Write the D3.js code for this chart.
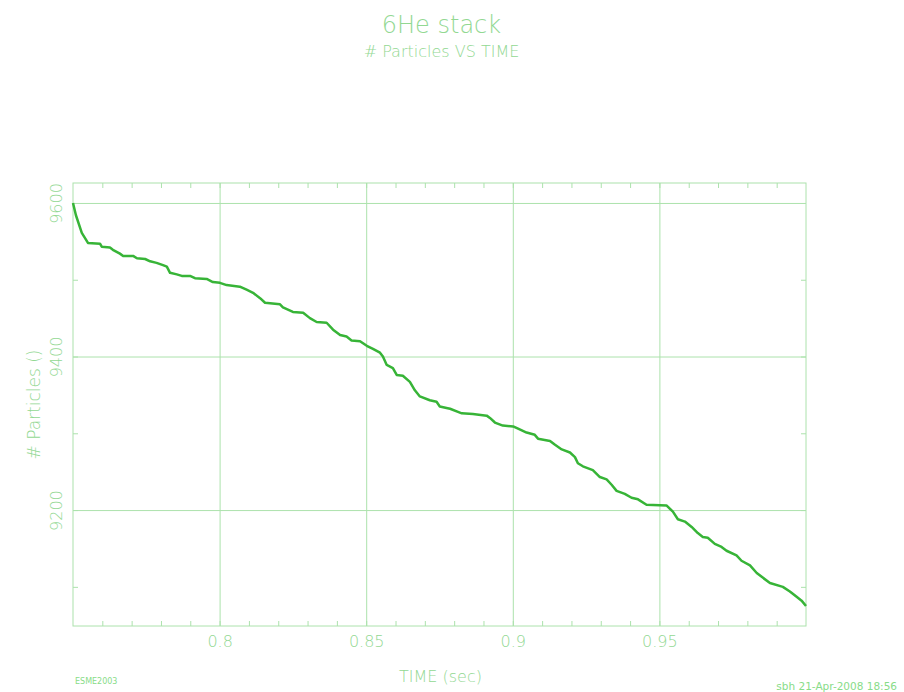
<!DOCTYPE html>
<html>
<head>
<meta charset="utf-8">
<script src="https://cdn.jsdelivr.net/npm/d3@7"></script>
<style>
  body { margin: 0; background: #fff; }
  text { font-family: "DejaVu Sans", sans-serif; font-weight: 200; fill: #92d892; }
  text.small { font-weight: normal; fill: #88dc88; }
</style>
</head>
<body>
<div id="chart"></div>
<script>
// time (sec)
const timeSec = [
  0.7500, 0.7510, 0.7530, 0.7551, 0.7592, 0.7598, 0.7626, 0.7636, 0.7660, 0.7671,
  0.7705, 0.7718, 0.7746, 0.7763, 0.7785, 0.7807, 0.7820, 0.7831, 0.7854, 0.7871,
  0.7899, 0.7916, 0.7956, 0.7977, 0.8001, 0.8024, 0.8069, 0.8092, 0.8114, 0.8138,
  0.8155, 0.8206, 0.8216, 0.8250, 0.8285, 0.8308, 0.8331, 0.8365, 0.8387, 0.8411,
  0.8433, 0.8450, 0.8479, 0.8502, 0.8523, 0.8547, 0.8557, 0.8570, 0.8591, 0.8604,
  0.8625, 0.8649, 0.8666, 0.8683, 0.8717, 0.8740, 0.8751, 0.8774, 0.8786, 0.8813,
  0.8826, 0.8864, 0.8911, 0.8922, 0.8939, 0.8966, 0.9001, 0.9018, 0.9047, 0.9075,
  0.9086, 0.9127, 0.9144, 0.9167, 0.9195, 0.9212, 0.9222, 0.9239, 0.9273, 0.9297,
  0.9320, 0.9337, 0.9354, 0.9382, 0.9405, 0.9427, 0.9456, 0.9524, 0.9546, 0.9563,
  0.9587, 0.9610, 0.9631, 0.9648, 0.9665, 0.9689, 0.9712, 0.9729, 0.9763, 0.9780,
  0.9809, 0.9832, 0.9849, 0.9877, 0.9921, 0.9945, 0.9968, 0.9985, 1.0000
];

// number of particles at each time
const particles = [
  9600, 9584, 9561, 9548, 9547, 9543, 9542, 9539, 9534, 9531,
  9531, 9528, 9527, 9524, 9522, 9519, 9517, 9509, 9507, 9505,
  9505, 9502, 9501, 9497, 9496, 9493, 9491, 9487, 9483, 9476,
  9470, 9468, 9464, 9458, 9457, 9450, 9445, 9444, 9435, 9428,
  9426, 9421, 9420, 9414, 9410, 9405, 9400, 9389, 9385, 9376,
  9375, 9367, 9356, 9348, 9343, 9341, 9335, 9333, 9332, 9328,
  9326, 9325, 9323, 9320, 9314, 9310, 9309, 9306, 9301, 9298,
  9293, 9290, 9285, 9279, 9275, 9269, 9261, 9257, 9252, 9243,
  9240, 9233, 9225, 9221, 9216, 9214, 9207, 9206, 9198, 9188,
  9185, 9178, 9170, 9165, 9164, 9156, 9152, 9147, 9141, 9134,
  9128, 9118, 9113, 9105, 9100, 9094, 9087, 9082, 9075
];

const xTickLabels = [0.8, 0.85, 0.9, 0.95];
const yTickLabels = [9200, 9400, 9600];

const WIDTH = 904, HEIGHT = 692;
const margin = { top: 183, right: 98, bottom: 66, left: 73 };
const plotW = WIDTH - margin.left - margin.right;
const plotH = HEIGHT - margin.top - margin.bottom;

const gridColor = "#ace2ac";
const lineColor = "#37b437";

const svg = d3.select("#chart")
  .append("svg")
  .attr("width", WIDTH)
  .attr("height", HEIGHT);

const g = svg.append("g")
  .attr("transform", `translate(${margin.left}, ${margin.top})`);

const x = d3.scaleLinear().domain([0.75, 1.0]).range([0, plotW]);
const y = d3.scaleLinear().domain([9049, 9626]).range([plotH, 0]);

const xMinor = d3.range(76, 100).map(i => i / 100);
const yMinor = d3.range(9100, 9600, 100);

function styleAxis(sel) {
  sel.select(".domain").remove();
  sel.selectAll("line").attr("stroke", gridColor);
}

// grid lines
g.append("g")
  .call(d3.axisBottom(x).tickValues(xTickLabels).tickSize(plotH).tickFormat(""))
  .call(styleAxis);
g.append("g")
  .call(d3.axisLeft(y).tickValues(yTickLabels).tickSize(-plotW).tickFormat(""))
  .call(styleAxis);

// minor ticks inside the frame
g.append("g").attr("transform", `translate(0, ${plotH})`)
  .call(d3.axisBottom(x).tickValues(xMinor).tickSize(-5).tickFormat(""))
  .call(styleAxis);
g.append("g")
  .call(d3.axisTop(x).tickValues(xMinor).tickSize(-5).tickFormat(""))
  .call(styleAxis);
g.append("g")
  .call(d3.axisLeft(y).tickValues(yMinor).tickSize(-5).tickFormat(""))
  .call(styleAxis);
g.append("g").attr("transform", `translate(${plotW}, 0)`)
  .call(d3.axisRight(y).tickValues(yMinor).tickSize(-5).tickFormat(""))
  .call(styleAxis);

// frame
g.append("rect")
  .attr("width", plotW)
  .attr("height", plotH)
  .attr("fill", "none")
  .attr("stroke", gridColor);

// tick labels
g.append("g").attr("transform", `translate(0, ${plotH})`)
  .call(d3.axisBottom(x).tickValues(xTickLabels).tickSize(0).tickPadding(10).tickFormat(d => d))
  .call(g => g.select(".domain").remove())
  .call(g => g.selectAll("text").attr("fill", null).style("font-size", "16px"));

g.append("g")
  .call(d3.axisLeft(y).tickValues(yTickLabels).tickSize(0).tickFormat(d => d))
  .call(g => g.select(".domain").remove())
  .call(g => g.selectAll("text")
    .attr("fill", null)
    .attr("x", 0)
    .attr("y", -11)
    .attr("dy", null)
    .attr("transform", "rotate(-90)")
    .attr("text-anchor", "middle")
    .style("font-size", "16px"));

// the curve
const line = d3.line()
  .x((d, i) => x(timeSec[i]))
  .y(d => y(d));

g.append("path")
  .datum(particles)
  .attr("fill", "none")
  .attr("stroke", lineColor)
  .attr("stroke-width", 2.5)
  .attr("stroke-linejoin", "round")
  .attr("d", line);

// titles
const cx = margin.left + plotW / 2;
svg.append("text")
  .attr("x", cx + 2).attr("y", 33)
  .attr("text-anchor", "middle")
  .style("font-size", "24px")
  .text("6He stack");
svg.append("text")
  .attr("x", cx + 2).attr("y", 57)
  .attr("text-anchor", "middle")
  .style("font-size", "16px")
  .text("# Particles VS TIME");
svg.append("text")
  .attr("x", cx + 1).attr("y", 682)
  .attr("text-anchor", "middle")
  .style("font-size", "16px")
  .text("TIME (sec)");
svg.append("text")
  .attr("transform", `translate(40, ${margin.top + plotH / 2}) rotate(-90)`)
  .attr("text-anchor", "middle")
  .style("font-size", "17px")
  .text("# Particles ()");
svg.append("text")
  .attr("class", "small")
  .attr("x", 75).attr("y", 684)
  .style("font-size", "8px")
  .text("ESME2003");
svg.append("text")
  .attr("class", "small")
  .attr("x", 897).attr("y", 690)
  .attr("text-anchor", "end")
  .style("font-size", "10.5px")
  .text("sbh 21-Apr-2008 18:56");
</script>
</body>
</html>
